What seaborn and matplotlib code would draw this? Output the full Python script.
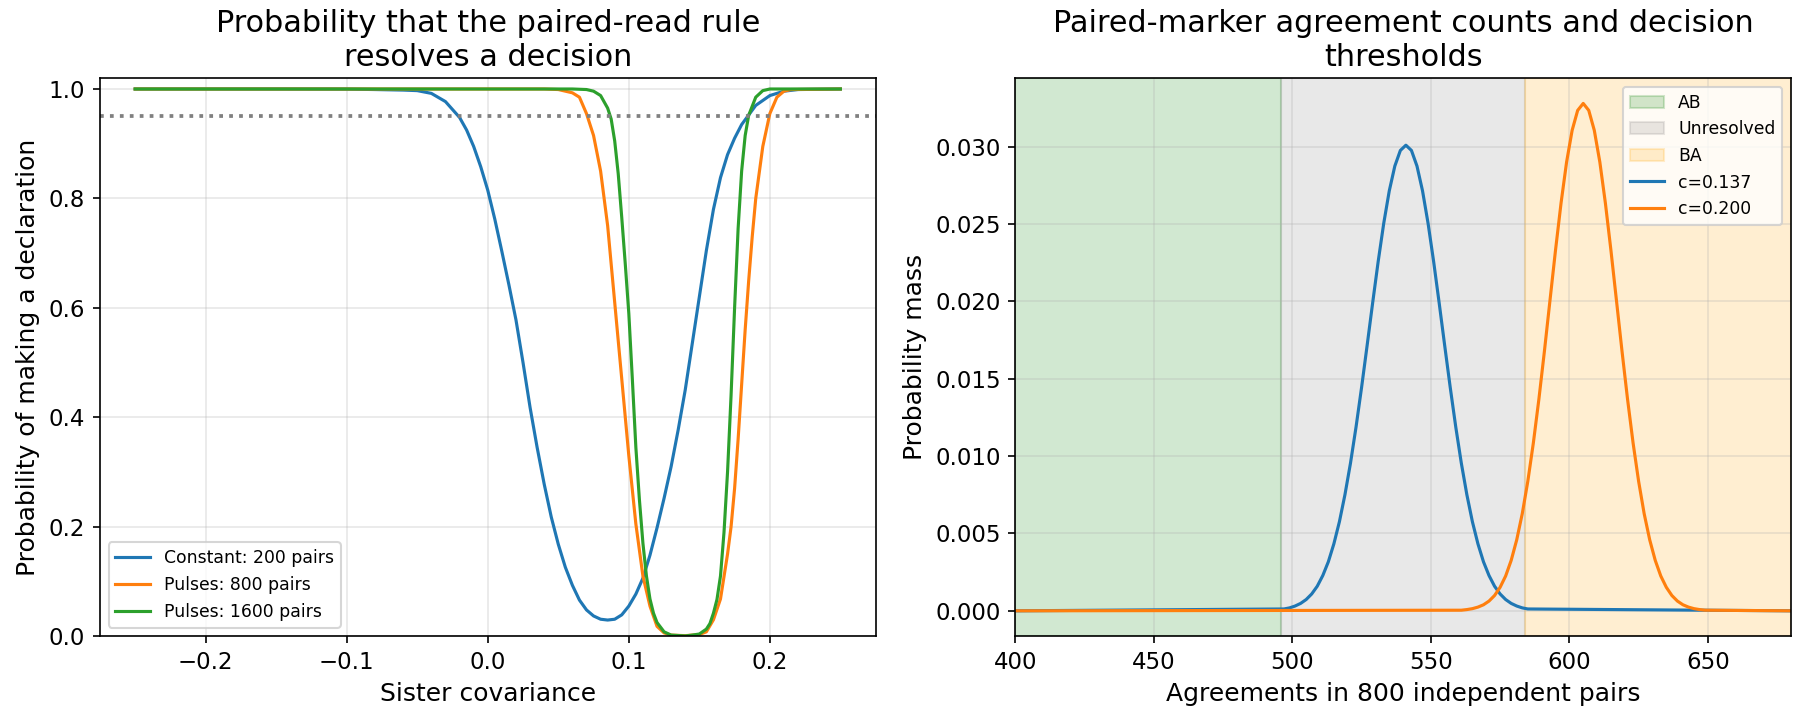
import numpy as np
import pandas as pd
import seaborn as sns
import matplotlib
matplotlib.use("Agg")
import matplotlib.pyplot as plt

# left panel: probability of a declaration vs sister covariance
const_200_x = [-0.25, -0.15, -0.10, -0.08, -0.06, -0.05, -0.04, -0.03, -0.02, -0.015,
               -0.01, -0.005, 0.0, 0.005, 0.01, 0.015, 0.02, 0.025, 0.03, 0.035,
               0.04, 0.045, 0.05, 0.055, 0.06, 0.065, 0.07, 0.075, 0.08, 0.085,
               0.09, 0.095, 0.10, 0.105, 0.11, 0.115, 0.12, 0.125, 0.13, 0.135,
               0.14, 0.145, 0.15, 0.155, 0.16, 0.165, 0.17, 0.175, 0.18, 0.19,
               0.20, 0.21, 0.22, 0.25]
const_200_y = [1.0, 1.0, 0.9998, 0.999, 0.998, 0.997, 0.992, 0.977, 0.948, 0.925,
               0.895, 0.858, 0.815, 0.762, 0.703, 0.642, 0.578, 0.50, 0.418, 0.345,
               0.278, 0.218, 0.168, 0.126, 0.093, 0.066, 0.048, 0.037, 0.031, 0.0295,
               0.031, 0.039, 0.055, 0.077, 0.106, 0.148, 0.198, 0.252, 0.31, 0.377,
               0.45, 0.535, 0.62, 0.705, 0.78, 0.838, 0.88, 0.91, 0.935, 0.97,
               0.988, 0.996, 0.999, 1.0]

pulse_800_x = [-0.25, 0.0, 0.04, 0.05, 0.06, 0.065, 0.07, 0.075, 0.08, 0.085,
               0.09, 0.095, 0.10, 0.105, 0.11, 0.115, 0.12, 0.125, 0.13, 0.14,
               0.15, 0.155, 0.16, 0.165, 0.17, 0.1725, 0.175, 0.1775, 0.18, 0.1825,
               0.185, 0.1875, 0.19, 0.195, 0.20, 0.205, 0.21, 0.215, 0.25]
pulse_800_y = [1.0, 1.0, 1.0, 0.999, 0.993, 0.985, 0.955, 0.915, 0.85, 0.75,
               0.61, 0.47, 0.33, 0.205, 0.11, 0.055, 0.018, 0.006, 0.002, 0.001,
               0.003, 0.008, 0.03, 0.068, 0.15, 0.20, 0.27, 0.36, 0.46, 0.56,
               0.65, 0.73, 0.80, 0.895, 0.955, 0.985, 0.996, 0.999, 1.0]

pulse_1600_x = [-0.25, 0.06, 0.07, 0.075, 0.08, 0.085, 0.0875, 0.09, 0.0925, 0.095,
                0.0975, 0.10, 0.1025, 0.105, 0.1075, 0.11, 0.1125, 0.115, 0.1175, 0.12,
                0.125, 0.13, 0.14, 0.145, 0.15, 0.155, 0.1575, 0.16, 0.1625, 0.165,
                0.1675, 0.17, 0.1725, 0.175, 0.1775, 0.18, 0.1825, 0.185, 0.19, 0.195,
                0.20, 0.25]
pulse_1600_y = [1.0, 1.0, 0.999, 0.996, 0.988, 0.965, 0.945, 0.905, 0.845, 0.765,
                0.68, 0.59, 0.47, 0.345, 0.25, 0.17, 0.11, 0.068, 0.042, 0.025,
                0.008, 0.002, 0.0005, 0.002, 0.004, 0.013, 0.023, 0.042, 0.067, 0.11,
                0.19, 0.30, 0.44, 0.60, 0.745, 0.85, 0.915, 0.952, 0.985, 0.997,
                1.0, 1.0]

target_level = 0.95

# right panel: agreement count distributions (800 pairs)
blue_x = [400] + list(range(497, 586, 2)) + [680]
blue_pmf = [0.0,
            0.00012, 0.00019, 0.00031, 0.00048, 0.00073, 0.00109, 0.00159, 0.00228,
            0.00317, 0.00433, 0.00576, 0.00751, 0.00955, 0.01188, 0.01444, 0.01715,
            0.01991, 0.02259, 0.02505, 0.02715, 0.02875, 0.02976, 0.0301,
            0.02976, 0.02875, 0.02715, 0.02505, 0.02259, 0.01991, 0.01715, 0.01444,
            0.01188, 0.00955, 0.00751, 0.00576, 0.00433, 0.00317, 0.00228, 0.00159,
            0.00109, 0.00073, 0.00048, 0.00031, 0.00019, 0.00012,
            0.0]
orange_x = [400] + list(range(561, 650, 2)) + [680]
orange_pmf = [0.0,
              0.00004, 0.00008, 0.00014, 0.00024, 0.00039, 0.00063, 0.00099, 0.00152,
              0.00225, 0.00326, 0.00459, 0.00628, 0.00837, 0.01085, 0.01368, 0.01679,
              0.02006, 0.02331, 0.02636, 0.02901, 0.03106, 0.03235, 0.0328,
              0.03235, 0.03106, 0.02901, 0.02636, 0.02331, 0.02006, 0.01679, 0.01368,
              0.01085, 0.00837, 0.00628, 0.00459, 0.00326, 0.00225, 0.00152, 0.00099,
              0.00063, 0.00039, 0.00024, 0.00014, 0.00008, 0.00004,
              0.0]
ab_cut = 496
ba_cut = 584
count_range = [400, 680]

plt.rcParams["font.size"] = 10
plt.rcParams["xtick.labelsize"] = 11
plt.rcParams["ytick.labelsize"] = 11
plt.rcParams["axes.labelsize"] = 12
plt.rcParams["axes.titlesize"] = 14.5

fig, (ax1, ax2) = plt.subplots(1, 2, figsize=(12, 4.8), dpi=150)
fig.subplots_adjust(left=0.0555, right=0.995, bottom=0.1164, top=0.8916, wspace=0.18)

sns.lineplot(x=const_200_x, y=const_200_y, ax=ax1, color="tab:blue", lw=1.5,
             label="Constant: 200 pairs")
sns.lineplot(x=pulse_800_x, y=pulse_800_y, ax=ax1, color="tab:orange", lw=1.5,
             label="Pulses: 800 pairs")
sns.lineplot(x=pulse_1600_x, y=pulse_1600_y, ax=ax1, color="tab:green", lw=1.5,
             label="Pulses: 1600 pairs")
ax1.axhline(target_level, color="gray", ls=":", lw=1.8)
ax1.set_ylim(0, 1.02)
ax1.grid(True, alpha=0.3)
ax1.set_xlabel("Sister covariance")
ax1.set_ylabel("Probability of making a declaration")
ax1.set_title("Probability that the paired-read rule\nresolves a decision")
ax1.legend(loc="lower left", fontsize=8.3)

ax2.axvspan(count_range[0], ab_cut, color="green", alpha=0.18, label="AB")
ax2.axvspan(ab_cut, ba_cut, color="gray", alpha=0.18, label="Unresolved")
ax2.axvspan(ba_cut, count_range[1], color="orange", alpha=0.18, label="BA")
sns.lineplot(x=blue_x, y=blue_pmf, ax=ax2, color="tab:blue", lw=1.5, label="c=0.137")
sns.lineplot(x=orange_x, y=orange_pmf, ax=ax2, color="tab:orange", lw=1.5, label="c=0.200")
ax2.set_xlim(count_range)
ax2.grid(True, alpha=0.3)
ax2.set_xlabel("Agreements in 800 independent pairs")
ax2.set_ylabel("Probability mass")
ax2.set_title("Paired-marker agreement counts and decision\nthresholds")
ax2.legend(loc="upper right", fontsize=8.3)

fig.savefig("out.png")
